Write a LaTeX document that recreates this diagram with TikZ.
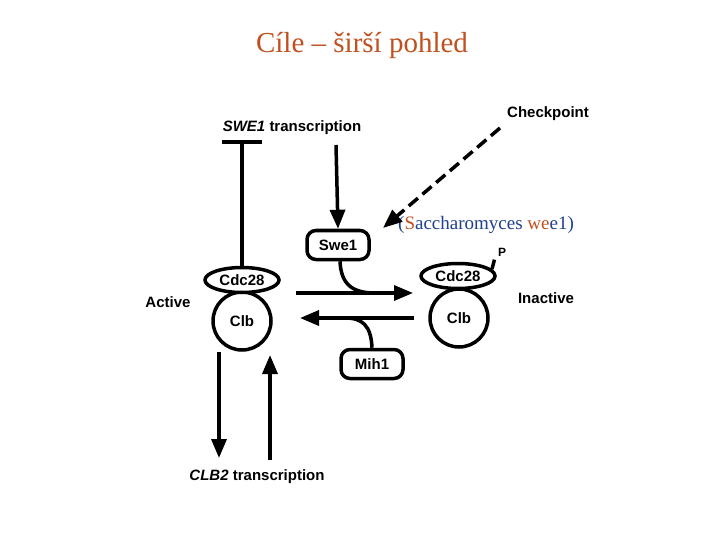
\documentclass[tikz,border=0pt]{standalone}
\usepackage{fontspec}
\setmainfont{Liberation Serif}
\newfontfamily\diag{Liberation Sans}
\usetikzlibrary{arrows.meta,shapes.geometric}
\definecolor{titlec}{RGB}{192,80,31}
\definecolor{bluec}{RGB}{31,63,143}
\begin{document}
\begin{tikzpicture}[x=1pt,y=-1pt,
  lbl/.style={font=\diag\bfseries\fontsize{15}{17}\selectfont},
  ln/.style={line width=3.5pt},
  arr/.style={ln,-{Triangle[length=19pt,width=15pt]}},
  box/.style={draw,line width=3.5pt,rounded corners=9pt,minimum width=62pt,minimum height=29pt,lbl},
  ell/.style={draw,line width=3.5pt,ellipse,minimum width=74pt,minimum height=25pt,inner sep=0pt,lbl},
  circ/.style={draw,line width=3.5pt,circle,minimum size=58pt,inner sep=0pt,lbl}]
\useasboundingbox (0,0) rectangle (720,540);
\node[font=\fontsize{29}{34}\selectfont,text=titlec] (title) at (362,45) {Cíle – širší pohled};
\node[lbl] (swet) at (292,128) {\textit{SWE1} transcription};
\node[lbl] (chk) at (548,114) {Checkpoint};
\node[box] (swe1) at (338,245) {Swe1};
\node[box] (mih1) at (372,364) {Mih1};
\node[circ] (clbL) at (242,321) {Clb};
\node[ell,fill=white] (cdcL) at (242,280) {Cdc28};
\node[circ] (clbR) at (459,318) {Clb};
\node[ell,fill=white] (cdcR) at (458,276) {Cdc28};
\node[lbl,font=\diag\bfseries\fontsize{12}{14}\selectfont] (p) at (502,252) {P};
\node[lbl] (act) at (168,302) {Active};
\node[lbl] (inact) at (546,298) {Inactive};
\node[lbl] (clb2) at (257,477) {\textit{CLB2} transcription};
\node[anchor=west,inner sep=0pt,font=\fontsize{19}{22}\selectfont,text=bluec] (sac) at (398,225) {(\textcolor{titlec}{S}accharomyces \textcolor{titlec}{we}e1)};
\coordinate (tb) at (242,142);
\draw[ln] (cdcL.north) -- (tb);
\draw[ln] (222,142) -- (262,142);
\draw[arr] (336,145) -- (swe1.north);
\coordinate (c1) at (500,128); \coordinate (c2) at (383,228);
\draw[ln,dash pattern=on 12pt off 6pt,-{Triangle[length=19pt,width=15pt]}] (c1) -- (c2);
\coordinate (a1) at (296,293); \coordinate (a2) at (413,293);
\draw[arr] (a1) -- (a2);
\draw[ln] (swe1.south) ++(2,0) .. controls (341,284) and (352,293) .. (375,293);
\coordinate (b1) at (414,318); \coordinate (b2) at (300,318);
\draw[arr] (b1) -- (b2);
\draw[ln] (mih1.north) .. controls (371,325) and (362,318) .. (345,318);
\draw[ln] (492,269) -- (p.south west);
\draw[arr] (219,352) -- (219,458);
\draw[arr] (270,460) -- (270,355);
\end{tikzpicture}
\end{document}
